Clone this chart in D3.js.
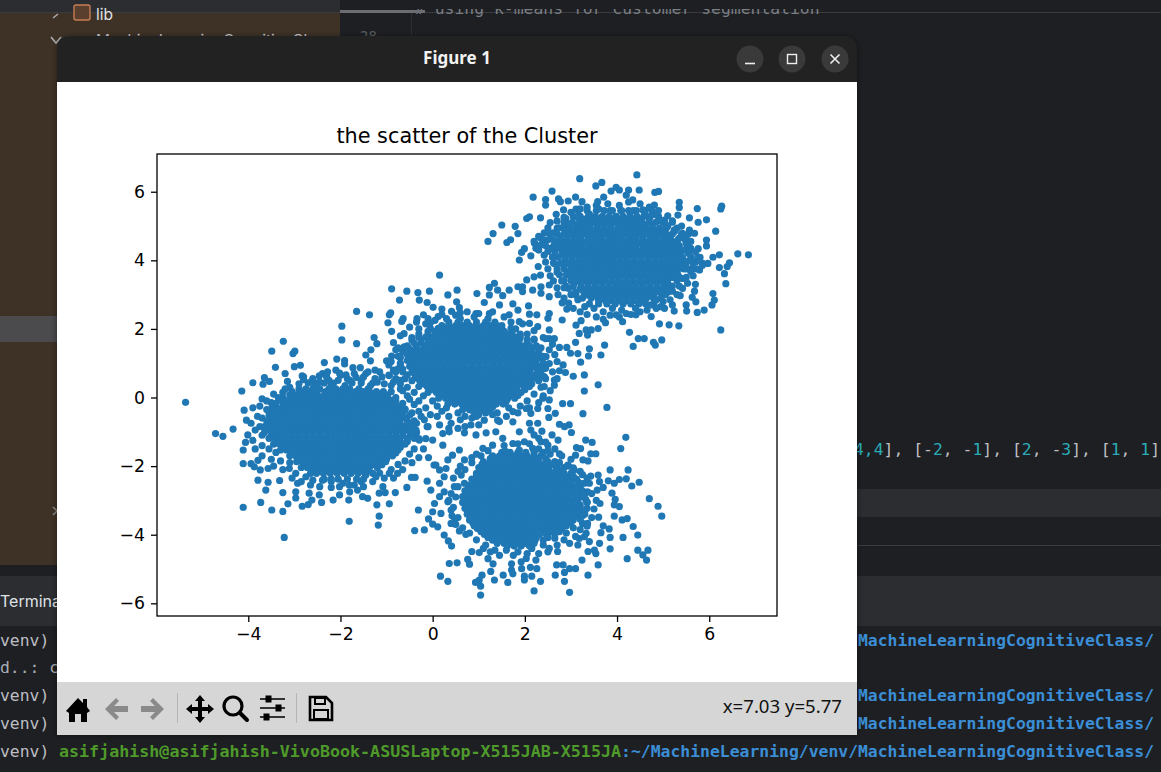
<!DOCTYPE html>
<html>
<head>
<meta charset="utf-8">
<title>the scatter of the Cluster</title>
<script src="https://cdnjs.cloudflare.com/ajax/libs/d3/7.8.5/d3.min.js"></script>
<style>
html, body { margin: 0; padding: 0; background: #1e1f22; overflow: hidden; }
svg { display: block; }
</style>
</head>
<body>
<svg id="shot" width="1161" height="772"></svg>
<script>
const chartTitle = 'the scatter of the Cluster';
const xTicks = [-4, -2, 0, 2, 4, 6];
const yTicks = [-6, -4, -2, 0, 2, 4, 6];
const xLimits = [-5.98, 7.47];
const yLimits = [-6.37, 7.1];
const statusText = 'x=7.03 y=5.77';

// dense middle of each cluster, read row by row: [y, x, x, x ...]
const upperRightRows = [
  [5.45,3.15,3.35,3.55,3.72,3.9,4.08,4.25,4.42,4.6,4.75],
  [5.28,3.05,3.2,3.38,3.53,3.68,3.83,3.98,4.13,4.28,4.43,4.58,4.72,4.9],
  [5.2,3.3,3.46,3.6,3.75,3.91,4.05,4.2,4.36,4.5],
  [5.11,2.85,3.03,3.19,3.34,3.49,3.64,3.79,3.94,4.09,4.24,4.39,4.54,4.69,4.84,5.0,5.2],
  [5.03,3.12,3.27,3.41,3.57,3.71,3.86,4.02,4.16,4.31,4.45,4.6,4.76],
  [4.94,2.7,2.85,2.98,3.13,3.27,3.42,3.57,3.72,3.87,4.02,4.17,4.32,4.47,4.62,4.77,4.92,5.07,5.3],
  [4.86,2.9,3.05,3.2,3.34,3.5,3.65,3.79,3.95,4.09,4.24,4.4,4.54,4.69,4.85,5.0],
  [4.77,2.55,2.7,2.85,2.99,3.14,3.29,3.44,3.59,3.74,3.89,4.04,4.19,4.34,4.49,4.64,4.79,4.94,5.06,5.2,5.4,5.55],
  [4.69,2.76,2.92,3.07,3.21,3.37,3.51,3.66,3.82,3.96,4.11,4.27,4.41,4.56,4.72,4.86,5.01,5.12],
  [4.6,2.4,2.62,2.78,2.92,3.07,3.22,3.37,3.52,3.67,3.82,3.97,4.12,4.27,4.42,4.57,4.72,4.87,5.02,5.17,5.32,5.48],
  [4.52,2.7,2.85,3.0,3.14,3.3,3.44,3.59,3.75,3.89,4.04,4.2,4.34,4.49,4.65,4.79,4.94,5.1,5.24],
  [4.43,2.45,2.63,2.78,2.93,3.08,3.22,3.37,3.52,3.67,3.82,3.97,4.12,4.27,4.42,4.57,4.72,4.87,5.02,5.17,5.35,5.52],
  [4.35,2.76,2.91,3.06,3.21,3.36,3.5,3.66,3.8,3.95,4.11,4.25,4.4,4.56,4.7,4.85,5.0,5.15,5.3],
  [4.26,2.5,2.65,2.83,2.98,3.13,3.28,3.43,3.58,3.73,3.88,4.03,4.18,4.33,4.48,4.63,4.78,4.93,5.08,5.23,5.4,5.55],
  [4.18,2.8,2.95,3.1,3.25,3.4,3.55,3.7,3.85,4.0,4.15,4.3,4.45,4.6,4.75,4.9,5.05,5.2,5.35],
  [4.09,2.6,2.72,2.87,3.02,3.17,3.32,3.47,3.62,3.77,3.92,4.07,4.22,4.37,4.52,4.67,4.82,4.97,5.12,5.27,5.42,5.6,5.8],
  [4.01,2.87,3.02,3.17,3.32,3.47,3.62,3.77,3.92,4.07,4.22,4.37,4.52,4.67,4.82,4.97,5.12,5.27,5.42],
  [3.92,2.62,2.78,2.94,3.09,3.24,3.39,3.54,3.69,3.84,3.99,4.14,4.29,4.44,4.59,4.74,4.89,5.04,5.19,5.34,5.5,5.65,5.85],
  [3.84,2.85,3.0,3.15,3.3,3.45,3.6,3.75,3.9,4.05,4.2,4.35,4.5,4.65,4.8,4.95,5.1,5.25,5.4],
  [3.75,2.7,2.85,3.02,3.17,3.32,3.47,3.62,3.77,3.92,4.07,4.22,4.37,4.52,4.67,4.82,4.97,5.12,5.27,5.45,5.6],
  [3.67,2.95,3.1,3.24,3.39,3.54,3.69,3.84,3.99,4.14,4.29,4.44,4.59,4.74,4.89,5.04,5.18,5.3],
  [3.58,2.75,2.9,3.07,3.22,3.37,3.52,3.67,3.82,3.97,4.12,4.27,4.42,4.57,4.72,4.87,5.02,5.17,5.32],
  [3.5,3.0,3.15,3.3,3.45,3.6,3.75,3.9,4.05,4.2,4.35,4.5,4.65,4.8,4.95,5.1,5.2],
  [3.41,2.85,3,3.14,3.29,3.44,3.59,3.74,3.89,4.04,4.19,4.34,4.49,4.64,4.79,4.94,5.09,5.3],
  [3.33,3.07,3.22,3.37,3.52,3.67,3.82,3.97,4.12,4.27,4.42,4.57,4.72,4.87,5.02,5.1],
  [3.24,2.9,3.05,3.22,3.37,3.52,3.67,3.82,3.97,4.12,4.27,4.42,4.57,4.72,4.87,5.02,5.15],
  [3.16,3.2,3.35,3.5,3.65,3.8,3.95,4.1,4.25,4.4,4.55,4.7,4.85,5.0],
  [3.07,3.1,3.28,3.43,3.58,3.73,3.88,4.03,4.18,4.33,4.48,4.63,4.78,4.93,5.1],
  [2.99,3.36,3.51,3.66,3.81,3.96,4.11,4.26,4.41,4.56,4.71,4.8],
  [2.9,3.25,3.44,3.59,3.74,3.89,4.04,4.19,4.34,4.49,4.64,4.79,4.95],
  [2.82,3.6,3.75,3.9,4.05,4.2,4.35,4.5,4.6],
  [2.73,3.4,3.6,3.78,3.96,4.13,4.3,4.47,4.62,4.8]
];
const middleRows = [
  [2.2,.35,.55,.75,.95,1.15,1.35],
  [2.1,.2,.35,.5,.65,.8,.95,1.1,1.25,1.4],
  [2.02,-.05,.12,.28,.43,.58,.73,.88,1.03,1.18,1.33,1.5,1.7],
  [1.93,-.1,.05,.2,.35,.5,.65,.8,.95,1.1,1.25,1.4,1.55,1.7],
  [1.85,-.3,-.1,.07,.22,.37,.52,.67,.82,.97,1.12,1.27,1.42,1.57,1.72,1.9],
  [1.76,-.3,-.15,0,.15,.3,.45,.6,.75,.9,1.05,1.2,1.35,1.5,1.65,1.8,1.9],
  [1.68,-.45,-.25,-.08,.08,.23,.38,.53,.68,.83,.98,1.13,1.28,1.43,1.58,1.73,1.88,2.05,2.2],
  [1.59,-.4,-.25,-.1,.05,.2,.35,.5,.65,.8,.95,1.1,1.25,1.4,1.55,1.7,1.85,2.05],
  [1.51,-.55,-.35,-.18,-.02,.13,.28,.43,.58,.73,.88,1.03,1.18,1.33,1.48,1.63,1.78,1.93,2.1,2.25],
  [1.42,-.5,-.35,-.2,-.05,.1,.25,.4,.55,.7,.85,1,1.15,1.3,1.45,1.6,1.75,1.9,2.05,2.15],
  [1.34,-.65,-.47,-.32,-.17,-.02,.13,.28,.43,.58,.73,.88,1.03,1.18,1.33,1.48,1.63,1.78,1.93,2.1,2.3],
  [1.25,-.55,-.4,-.25,-.1,.05,.2,.35,.5,.65,.8,.95,1.1,1.25,1.4,1.55,1.7,1.85,2,2.2],
  [1.17,-.7,-.48,-.33,-.18,-.03,.12,.27,.42,.57,.72,.87,1.02,1.17,1.32,1.47,1.62,1.77,1.92,2.07,2.22,2.35],
  [1.08,-.55,-.4,-.27,-.12,.03,.18,.33,.48,.63,.78,.93,1.08,1.23,1.38,1.53,1.68,1.83,1.98,2.13,2.25],
  [1.0,-.7,-.47,-.33,-.19,-.04,.11,.26,.41,.56,.71,.86,1.01,1.16,1.31,1.46,1.61,1.76,1.91,2.06,2.21,2.4],
  [.91,-.5,-.35,-.2,-.05,.1,.25,.4,.55,.7,.85,1,1.15,1.3,1.45,1.6,1.75,1.9,2.05,2.2,2.3],
  [.83,-.65,-.43,-.28,-.13,.02,.17,.32,.47,.62,.77,.92,1.07,1.22,1.37,1.52,1.67,1.82,1.97,2.12,2.27,2.4],
  [.74,-.45,-.3,-.15,0,.15,.3,.45,.6,.75,.9,1.05,1.2,1.35,1.5,1.65,1.8,1.95,2.1,2.3],
  [.66,-.55,-.38,-.23,-.08,.07,.22,.37,.52,.67,.82,.97,1.12,1.27,1.42,1.57,1.72,1.87,2.02,2.17,2.35],
  [.57,-.35,-.2,-.05,.1,.25,.4,.55,.7,.85,1,1.15,1.3,1.45,1.6,1.75,1.9,2.05,2.25],
  [.49,-.45,-.28,-.12,.03,.18,.33,.48,.63,.78,.93,1.08,1.23,1.38,1.53,1.68,1.83,1.98,2.13,2.3],
  [.4,-.2,-.05,.1,.25,.4,.55,.7,.85,1,1.15,1.3,1.45,1.6,1.75,1.9,2.05,2.15],
  [.32,-.3,-.12,.03,.18,.33,.48,.63,.78,.93,1.08,1.23,1.38,1.53,1.68,1.83,1.98,2.1],
  [.23,0,.15,.3,.45,.6,.75,.9,1.05,1.2,1.35,1.5,1.65,1.8,2],
  [.15,-.1,.08,.23,.38,.53,.68,.83,.98,1.13,1.28,1.43,1.58,1.73,1.92],
  [.06,.2,.35,.5,.65,.8,.95,1.1,1.25,1.4,1.55,1.7,1.85],
  [-.02,.13,.28,.43,.58,.73,.88,1.03,1.18,1.33,1.48,1.63,1.78],
  [-.11,.4,.55,.7,.85,1,1.15,1.3,1.45,1.6],
  [-.19,.33,.48,.63,.78,.93,1.08,1.23,1.38,1.53],
  [-.28,.7,.85,1,1.15,1.3],
  [-.36,.65,.8,.95,1.1,1.25]
];
const leftRows = [
  [.42,-2.7,-2.5,-2.35,-2.15,-1.75,-1.55,-1.3],
  [.25,-2.9,-2.75,-2.6,-2.45,-2.25,-2.1,-1.95,-1.8,-1.6,-1.4],
  [.17,-3.05,-2.87,-2.72,-2.52,-2.32,-2.17,-2.02,-1.87,-1.67,-1.5,-1.37,-1.22,-1.07,-.9],
  [.08,-3.1,-2.95,-2.8,-2.65,-2.5,-2.35,-2.2,-2.05,-1.9,-1.75,-1.6,-1.45,-1.3,-1.15,-1],
  [0,-3.25,-3.07,-2.92,-2.77,-2.62,-2.47,-2.32,-2.17,-2.02,-1.87,-1.72,-1.57,-1.42,-1.27,-1.12,-.97,-.8],
  [-.09,-3.3,-3.15,-3,-2.85,-2.7,-2.55,-2.4,-2.25,-2.1,-1.95,-1.8,-1.65,-1.5,-1.35,-1.2,-1.05,-.9,-.8],
  [-.17,-3.4,-3.22,-3.07,-2.92,-2.77,-2.62,-2.47,-2.32,-2.17,-2.02,-1.87,-1.72,-1.57,-1.42,-1.27,-1.12,-.97,-.82,-.65],
  [-.26,-3.4,-3.25,-3.1,-2.95,-2.8,-2.65,-2.5,-2.35,-2.2,-2.05,-1.9,-1.75,-1.6,-1.45,-1.3,-1.15,-1,-.85,-.7],
  [-.34,-3.5,-3.32,-3.17,-3.02,-2.87,-2.72,-2.57,-2.42,-2.27,-2.12,-1.97,-1.82,-1.67,-1.52,-1.37,-1.22,-1.07,-.92,-.77,-.6],
  [-.43,-3.45,-3.3,-3.15,-3,-2.85,-2.7,-2.55,-2.4,-2.25,-2.1,-1.95,-1.8,-1.65,-1.5,-1.35,-1.2,-1.05,-.9,-.75,-.65],
  [-.51,-3.55,-3.37,-3.22,-3.07,-2.92,-2.77,-2.62,-2.47,-2.32,-2.17,-2.02,-1.87,-1.72,-1.57,-1.42,-1.27,-1.12,-.97,-.82,-.67,-.5],
  [-.6,-3.5,-3.35,-3.2,-3.05,-2.9,-2.75,-2.6,-2.45,-2.3,-2.15,-2,-1.85,-1.7,-1.55,-1.4,-1.25,-1.1,-.95,-.8,-.6],
  [-.68,-3.6,-3.42,-3.27,-3.12,-2.97,-2.82,-2.67,-2.52,-2.37,-2.22,-2.07,-1.92,-1.77,-1.62,-1.47,-1.32,-1.17,-1.02,-.87,-.72,-.55,-.4],
  [-.77,-3.55,-3.4,-3.25,-3.1,-2.95,-2.8,-2.65,-2.5,-2.35,-2.2,-2.05,-1.9,-1.75,-1.6,-1.45,-1.3,-1.15,-1,-.85,-.7,-.5],
  [-.85,-3.65,-3.47,-3.32,-3.17,-3.02,-2.87,-2.72,-2.57,-2.42,-2.27,-2.12,-1.97,-1.82,-1.67,-1.52,-1.37,-1.22,-1.07,-.92,-.77,-.62,-.42],
  [-.94,-3.55,-3.42,-3.27,-3.12,-2.97,-2.82,-2.67,-2.52,-2.37,-2.22,-2.07,-1.92,-1.77,-1.62,-1.47,-1.32,-1.17,-1.02,-.87,-.72,-.57,-.45],
  [-1.02,-3.65,-3.48,-3.34,-3.19,-3.04,-2.89,-2.74,-2.59,-2.44,-2.29,-2.14,-1.99,-1.84,-1.69,-1.54,-1.39,-1.24,-1.09,-.94,-.79,-.64,-.49,-.35],
  [-1.11,-3.5,-3.35,-3.2,-3.05,-2.9,-2.75,-2.6,-2.45,-2.3,-2.15,-2,-1.85,-1.7,-1.55,-1.4,-1.25,-1.1,-.95,-.8,-.65,-.45],
  [-1.19,-3.55,-3.42,-3.27,-3.12,-2.97,-2.82,-2.67,-2.52,-2.37,-2.22,-2.07,-1.92,-1.77,-1.62,-1.47,-1.32,-1.17,-1.02,-.87,-.72,-.55,-.4],
  [-1.28,-3.4,-3.25,-3.1,-2.95,-2.8,-2.65,-2.5,-2.35,-2.2,-2.05,-1.9,-1.75,-1.6,-1.45,-1.3,-1.15,-1,-.85,-.7,-.55],
  [-1.36,-3.45,-3.32,-3.17,-3.02,-2.87,-2.72,-2.57,-2.42,-2.27,-2.12,-1.97,-1.82,-1.67,-1.52,-1.37,-1.22,-1.07,-.92,-.77,-.6],
  [-1.45,-3.25,-3.1,-2.95,-2.8,-2.65,-2.5,-2.35,-2.2,-2.05,-1.9,-1.75,-1.6,-1.45,-1.3,-1.15,-1,-.85,-.7],
  [-1.53,-3.3,-3.17,-3.02,-2.87,-2.72,-2.57,-2.42,-2.27,-2.12,-1.97,-1.82,-1.67,-1.52,-1.37,-1.22,-1.07,-.92,-.75],
  [-1.62,-3.05,-2.9,-2.75,-2.6,-2.45,-2.3,-2.15,-2,-1.85,-1.7,-1.55,-1.4,-1.25,-1.1,-.95,-.8],
  [-1.7,-3.1,-2.97,-2.82,-2.67,-2.52,-2.37,-2.22,-2.07,-1.92,-1.77,-1.62,-1.47,-1.32,-1.17,-1.02,-.87],
  [-1.79,-2.9,-2.75,-2.6,-2.45,-2.3,-2.15,-2,-1.85,-1.7,-1.55,-1.4,-1.25,-1.1,-1],
  [-1.87,-2.95,-2.82,-2.67,-2.52,-2.37,-2.22,-2.07,-1.92,-1.77,-1.62,-1.47,-1.32,-1.17,-1.02],
  [-1.96,-2.8,-2.65,-2.5,-2.35,-2.2,-2.05,-1.9,-1.75,-1.6,-1.45,-1.3,-1.1],
  [-2.04,-2.85,-2.72,-2.57,-2.42,-2.27,-2.12,-1.97,-1.82,-1.67,-1.52,-1.37,-1.2],
  [-2.13,-2.6,-2.45,-2.3,-2.15,-2,-1.85,-1.7,-1.55,-1.4],
  [-2.21,-2.65,-2.52,-2.37,-2.22,-2.07,-1.92,-1.77,-1.62,-1.47,-1.3],
  [-2.38,-2.35,-2.2,-2.05,-1.85,-1.65,-1.5]
];
const lowerRows = [
  [-1.6,1.5,1.68,1.85,2.02,2.2,2.4],
  [-1.7,1.3,1.45,1.6,1.75,1.9,2.05,2.2,2.35],
  [-1.78,1.25,1.37,1.52,1.67,1.82,1.97,2.12,2.27,2.45],
  [-1.87,1.1,1.25,1.4,1.55,1.7,1.85,2,2.15,2.3,2.5,2.65],
  [-1.95,1.07,1.22,1.37,1.52,1.67,1.82,1.97,2.12,2.27,2.42,2.6],
  [-2.04,1,1.15,1.3,1.45,1.6,1.75,1.9,2.05,2.2,2.35,2.5,2.7,2.85],
  [-2.12,1.02,1.17,1.32,1.47,1.62,1.77,1.92,2.07,2.22,2.37,2.52,2.67,2.8],
  [-2.21,.95,1.1,1.25,1.4,1.55,1.7,1.85,2,2.15,2.3,2.45,2.6,2.75,2.85,3],
  [-2.29,.95,1.07,1.22,1.37,1.52,1.67,1.82,1.97,2.12,2.27,2.42,2.57,2.72,2.87,3],
  [-2.38,.85,1,1.15,1.3,1.45,1.6,1.75,1.9,2.05,2.2,2.35,2.5,2.65,2.8,2.95,3.12],
  [-2.46,.87,1.02,1.17,1.32,1.47,1.62,1.77,1.92,2.07,2.22,2.37,2.52,2.67,2.82,3,3.15],
  [-2.55,.8,.95,1.1,1.25,1.4,1.55,1.7,1.85,2,2.15,2.3,2.45,2.6,2.75,2.9,3,3.2],
  [-2.63,.77,.92,1.07,1.22,1.37,1.52,1.67,1.82,1.97,2.12,2.27,2.42,2.57,2.72,2.87,3.05,3.2],
  [-2.72,.7,.85,1,1.15,1.3,1.45,1.6,1.75,1.9,2.05,2.2,2.35,2.5,2.65,2.8,2.95,3.05,3.25],
  [-2.8,.72,.87,1.02,1.17,1.32,1.47,1.62,1.77,1.92,2.07,2.22,2.37,2.52,2.67,2.82,2.97,3.15,3.3],
  [-2.89,.65,.8,.95,1.1,1.25,1.4,1.55,1.7,1.85,2,2.15,2.3,2.45,2.6,2.75,2.9,3.1,3.25],
  [-2.97,.72,.87,1.02,1.17,1.32,1.47,1.62,1.77,1.92,2.07,2.22,2.37,2.52,2.67,2.82,2.97,3.15,3.32],
  [-3.06,.65,.82,.97,1.12,1.27,1.42,1.57,1.72,1.87,2.02,2.17,2.32,2.47,2.62,2.77,2.92,3.07,3.15,3.35],
  [-3.14,.74,.89,1.04,1.19,1.34,1.49,1.64,1.79,1.94,2.09,2.24,2.39,2.54,2.69,2.84,2.99,3.2],
  [-3.23,.7,.85,1,1.15,1.3,1.45,1.6,1.75,1.9,2.05,2.2,2.35,2.5,2.65,2.8,2.95,3.1,3.2,3.35],
  [-3.31,.77,.92,1.07,1.22,1.37,1.52,1.67,1.82,1.97,2.12,2.27,2.42,2.57,2.72,2.87,3.02,3.2],
  [-3.4,.75,.9,1.05,1.2,1.35,1.5,1.65,1.8,1.95,2.1,2.25,2.4,2.55,2.7,2.85,3,3.15,3.3],
  [-3.48,.82,.97,1.12,1.27,1.42,1.57,1.72,1.87,2.02,2.17,2.32,2.47,2.62,2.77,2.92,3.07],
  [-3.57,.8,.95,1.1,1.25,1.4,1.55,1.7,1.85,2,2.15,2.3,2.45,2.6,2.75,2.9,3.05],
  [-3.65,.87,1.02,1.17,1.32,1.47,1.62,1.77,1.92,2.07,2.22,2.37,2.52,2.67,2.82,3],
  [-3.74,.9,1.05,1.2,1.35,1.5,1.65,1.8,1.95,2.1,2.25,2.4,2.55,2.7,2.9],
  [-3.82,.97,1.12,1.27,1.42,1.57,1.72,1.87,2.02,2.17,2.32,2.47,2.62,2.8],
  [-3.91,1.05,1.2,1.35,1.5,1.65,1.8,1.95,2.1,2.25,2.4,2.55,2.75],
  [-3.99,1.12,1.27,1.42,1.57,1.72,1.87,2.02,2.17,2.32,2.47,2.65],
  [-4.08,1.2,1.35,1.5,1.65,1.8,1.95,2.1,2.25,2.5],
  [-4.16,1.3,1.47,1.62,1.77,1.92,2.07,2.22,2.4],
  [-4.25,1.4,1.55,1.7,1.85,2,2.2],
  [-4.33,1.62,1.77,1.92,2.1]
];

// single dots around the clusters: [x, y]
const upperRightEdge = [[4.43,6.49],[3.19,6.38],[3.67,6.27],[3.54,6.17],[2.59,6.02],[2.18,5.84],[2.45,5.77],[2.45,5.61],[2.73,5.79],[2.77,5.71],[2.94,5.73],[3.1,5.84],[3.24,5.71],[3.58,5.71],[3.71,5.84],[3.87,6.02],[3.98,6.13],[4.05,6.05],[4.25,6.05],[4.48,6.05],[4.82,5.98],[4.9,6.01],[4.81,5.61],[5.35,5.69],[5.35,5.54],[5.74,5.51],[5.32,5.32],[5.57,5.24],[5.76,5.11],[5.94,5.18],[6.27,5.58],[6.25,5.5],[6.14,4.85],[5.94,4.59],[5.94,4.42],[5.76,4.34],[6.22,4.16],[6.62,4.19],[6.85,4.16],[6.44,3.93],[6.39,3.82],[6.22,3.79],[6.33,3.61],[6.36,3.32],[6.08,4.09],[5.97,3.91],[5.79,3.72],[5.7,3.3],[5.68,3.1],[5.71,2.79],[6.08,3.03],[6.11,2.84],[6.06,2.7],[5.89,2.55],[5.74,2.48],[5.51,2.52],[5.5,2.7],[5.63,2.92],[5.37,2.97],[6.25,1.97],[5.34,2.09],[5.13,2.12],[4.92,2.15],[4.97,1.68],[4.79,1.61],[4.83,1.53],[4.59,1.72],[4.46,1.72],[4.35,1.49],[4.27,1.9],[3.73,1.53],[3.65,1.24],[3.4,1.42],[3.38,1.21],[3.15,1.28],[3.1,1.61],[3.21,1.03],[3.33,1.97],[3.18,1.87],[3.44,1.97],[3.59,2.01],[3.36,1.82],[3.11,2.11],[3.22,2.24],[3.75,2.18],[4.12,2.21],[3.98,2.41],[4.2,2.45],[4.41,2.41],[4.74,2.36],[5.03,2.6],[5.24,2.52],[1.5,5.03],[1.79,4.99],[1.31,4.78],[1.2,4.55],[1.85,4.78],[1.69,4.6],[1.61,4.52],[1.99,4.34],[1.93,4.23],[1.88,4.01],[2.13,4.13],[2.29,3.82],[2.04,5.22],[2.1,5.27],[2.34,5.24],[2.5,4.95],[2.68,5.34],[2.84,5.47],[2.89,5.22],[3.11,5.49],[2.21,4.5],[2.35,4.64],[2.24,4.35],[2.34,3.57],[2.04,3.43],[2.2,3.52],[1.85,3.23],[1.95,3.23],[1.34,3.33],[1.23,3.21],[1.23,2.99],[.96,3.03],[1.41,3.13],[1.52,2.97],[1.66,3.13],[1.95,3.09],[2.17,3.13],[2.35,3.23],[2.53,3.28],[2.53,2.94],[2.35,3.04],[1.12,2.77],[1.45,2.7],[1.74,2.73],[2.08,2.67],[.94,2.45],[1.23,2.45],[1.66,2.41],[1.85,2.55],[2.1,2.43],[2.26,2.41],[1.88,2.21],[2.28,2.07],[2.1,2.16],[2.53,2.45],[2.5,2.31],[2.81,2.26],[2.81,2.76],[2.91,2.58],[2.95,3.18],[3.11,2.99],[5.57,4.88],[5.68,4.79],[5.42,4.3],[5.6,4.35],[5.5,3.96],[5.71,3.96],[5.42,3.77],[5.6,3.67],[5.42,3.47],[5.53,3.33],[5.42,3.18],[5.2,3.1],[5.2,2.7],[4.95,2.65],[4.74,2.7],[5.06,5.03],[5.24,4.88],[5.42,4.79],[4.85,5.32],[5.03,5.17],[4.56,5.47],[4.34,5.76],[4.2,5.9],[2.6,4.8],[2.5,4.6],[2.55,4.35],[2.6,4.1],[2.65,3.9],[2.7,3.65],[2.8,3.4],[2.85,3.2],[3,3],[3.15,2.85],[3.3,2.65],[3.5,2.6],[3.7,2.5],[3.9,2.6],[4.1,2.55],[4.4,2.6],[4.6,2.8],[4.85,2.85],[5.05,3],[5.2,3.25],[5.35,3.5],[5.5,3.75],[5.6,4],[5.55,4.2],[5.5,4.5],[5.35,4.65],[5.25,4.85],[5.1,5],[4.95,5.15],[4.7,5.2],[4.6,5.35],[4.35,5.45],[4.1,5.45],[3.85,5.45],[3.6,5.5],[3.4,5.35],[3.15,5.25],[2.95,5.05],[2.75,4.95],[2.3,4.7],[2.42,4.8],[2.2,4.55],[2.35,4.45],[2.3,4.3],[2.42,4.15],[2.45,3.95],[2.5,3.75],[2.55,3.55],[2.62,3.4],[2.7,3.2],[2.72,3],[2.85,2.9],[2.95,2.75],[3.05,2.6],[3.2,2.5],[3.35,2.42],[3.55,2.35],[3.7,2.28],[3.85,2.4],[4.05,2.35],[4.3,2.42],[4.5,2.5],[4.65,2.55],[4.85,2.6],[5,2.8],[5.15,2.85],[5.3,3],[5.35,3.25],[5.5,3.5],[5.65,3.55],[5.72,3.75],[5.85,3.85],[5.75,4.1],[5.7,4.25],[5.6,4.55],[5.5,4.7],[5.4,5],[5.2,5.15],[5.1,5.3],[4.9,5.45],[4.7,5.55],[4.5,5.65],[4.25,5.7],[4.05,5.6],[3.8,5.65],[3.55,5.6],[3.35,5.55],[3.2,5.5],[3,5.4],[2.85,5.25],[2.7,5.15],[2.55,5.1]];
const middleEdge = [[.15,3.57],[-.89,3.17],[-.56,3.1],[-.32,3.06],[-.07,3.1],[.53,3.13],[.33,2.99],[-.72,2.84],[-.29,2.84],[-.12,2.77],[.01,2.63],[.2,2.58],[.52,2.79],[.58,2.62],[.41,2.51],[.6,2.47],[-1.65,2.51],[-1.37,2.41],[-.91,2.47],[-.94,2.41],[-.97,2.18],[-.64,2.3],[-.67,2.22],[-.2,2.41],[-.34,2.3],[.12,2.36],[-.05,2.18],[-1.97,2.08],[-.89,1.93],[-.62,1.86],[-1.97,1.68],[-1.65,1.57],[-1.27,1.75],[-1.21,1.57],[-1.34,1.39],[-1.45,1.24],[-1.35,1.07],[-1,1.07],[-.89,1.21],[-.8,1.39],[-.62,1.48],[-.75,1.2],[-.7,.95],[-.65,.75],[-.6,.55],[-.55,1.45],[-.45,1.75],[-.3,2],[-.15,2.15],[.05,2.25],[.3,2.3],[.6,2.3],[.9,2.35],[1.2,2.3],[1.5,2.1],[1.8,2],[2.05,1.85],[2.2,1.7],[2.35,1.45],[2.4,1.2],[2.45,.85],[2.45,.55],[2.35,.3],[2.2,.1],[2.05,-.1],[1.9,-.25],[1.65,-.3],[1.4,-.45],[2.53,1.72],[2.45,1.72],[2.64,1.72],[2.53,1.97],[2.75,1.46],[2.91,1.46],[2.99,1.29],[2.53,1.39],[2.46,1.19],[2.24,1.48],[2.53,.99],[2.83,.95],[2.75,.78],[2.88,.73],[3.05,.62],[3.29,.66],[3.59,.37],[3.29,.19],[2.64,.51],[2.42,.61],[2.28,.8],[2.64,.36],[2.42,.32],[-.55,.3],[-.4,.15],[-.5,-.05],[-.3,-.1],[-.2,.05],[-.15,-.3],[0,-.1],[.1,-.25],[.2,-.4],[.3,-.3],[-.6,-.35],[-.45,-.45],[-.25,-.55],[-.05,-.5],[.1,-.55],[.35,-.55],[.55,-.45],[.6,-.65],[.4,-.75],[.15,-.8],[-.1,-.85],[.35,-.9],[.55,-.9],[.7,-.85],[.85,-.6],[1,-.5],[1.15,-.45],[1.3,-.5],[1,-.8],[-.5,2.05],[-.7,1.8],[-.85,1.6],[-.75,1.45],[-.9,1.05],[-.85,.8],[-.95,.95],[-.8,.55],[-.7,.4],[-.65,.2],[-.35,2.2],[-.1,2.3],[.2,2.42],[.5,2.4],[.75,2.5],[1,2.45],[1.3,2.5],[1.55,2.35],[1.7,2.2],[1.95,2.15],[2.2,1.95],[2.4,1.75],[2.6,1.55],[2.65,1.25],[2.7,1.05],[2.6,.75],[2.7,.55],[2.55,.2],[2.4,.05],[2.3,-.15],[2.1,-.3],[1.85,-.45],[1.6,-.55],[1.45,-.7],[.95,-.55],[.7,-.55]];
const leftEdge = [[-3.24,1.64],[-3.49,1.35],[-2.99,1.35],[-3.03,1.28],[-2.08,1.12],[-1.91,1.08],[-1.91,.98],[-3.41,.88],[-3,.9],[-2.87,.94],[-2.35,1.02],[-3.2,.7],[-3.65,.58],[-3.54,.47],[-3.68,.39],[-3.9,.43],[-3.15,.47],[-1.73,.87],[-1.57,.87],[-2.28,.75],[-2.39,.7],[-2.46,.63],[-2.83,.63],[-2.8,.52],[-2.02,.71],[-1.88,.66],[-1.66,.59],[-1.45,.7],[-1.15,.75],[-.94,.64],[-.76,.83],[-2.8,.6],[-2.6,.55],[-2.45,.45],[-2.3,.6],[-2.1,.8],[-2,.65],[-1.85,.55],[-1.7,.7],[-1.55,.5],[-1.4,.75],[-1.25,.8],[-1.1,.6],[-.95,.65],[-.8,.75],[-.7,.5],[-.85,.45],[-1.05,.4],[-1.2,.45],[-1.35,.35],[-2.55,.35],[-2.2,.35],[-1.9,.35],[-3.1,.3],[-3.25,.15],[-3.35,0],[-3.5,-.15],[-3.6,-.35],[-3.7,-.6],[-3.75,-.85],[-3.7,-1.1],[-3.7,-1.4],[-3.55,-1.5],[-3.4,-1.6],[-3.3,-1.85],[-3.1,-1.9],[-.3,-.4],[-.35,-.75],[-.3,-1.2],[-.4,-1.5],[-.5,-1.65],[-.6,-1.85],[-.75,-1.95],[-.9,-2.1],[-1.15,-2.2],[-5.36,-.14],[-4.14,.19],[-3.7,-.04],[-4.09,-.37],[-4.04,-.66],[-3.94,-.75],[-4.33,-.92],[-4.71,-1.05],[-4.55,-1.13],[-4.01,-1.09],[-4.06,-1.31],[-4.11,-1.53],[-4.11,-1.93],[-3.94,-1.93],[-3.79,-1.83],[-3.87,-2.02],[-3.74,-2.11],[-3.57,-2.07],[-3.79,-2.41],[-3.57,-2.47],[-3.32,-2.42],[-3.62,-2.7],[-3.25,-2.77],[-3.73,-3.06],[-4.11,-3.2],[-3.49,-3.28],[-3.25,-3.32],[-3.14,-3.1],[-2.83,-3.17],[-2.7,-3.12],[-2.97,-2.93],[-2.62,-2.99],[-2.41,-3.06],[-2.46,-2.84],[-2.16,-2.99],[-1.81,-3.61],[-3.22,-4.08],[-1.18,-3.72],[-1.16,-3.46],[-1.21,-3.13],[-.94,-3.1],[-1.82,-2.99],[-2.02,-2.84],[-1.8,-2.75],[-1.63,-2.7],[-1.5,-2.6],[-1.41,-2.94],[-1.52,-2.89],[-1.16,-2.79],[-1.03,-2.77],[-.81,-2.77],[-1.08,-2.6],[-.56,-2.62],[-.46,-2.33],[-.38,-2.33],[-.12,-2.44],[-.04,-2.7],[-3.11,-2.07],[-2.97,-2.21],[-2.75,-2.31],[-2.6,-2.41],[-2.39,-2.41],[-2.2,-2.62],[-2.02,-2.6],[-1.81,-2.55],[-1.45,-2.26],[-1.23,-2.31],[-.94,-2.21],[-.76,-2.21],[-2.97,-2.75],[-2.68,-2.79],[-2.93,-2.5],[-3.9,-.3],[-3.8,-.55],[-3.85,-.95],[-3.9,-1.25],[-3.85,-1.5],[-3.7,-1.7],[-3.5,-1.8],[-3.45,-2],[-3.25,-2.1],[-3.05,-2.35],[-2.85,-2.45],[-2.65,-2.55],[-2.45,-2.6],[-2.2,-2.45],[-1.95,-2.5],[-1.7,-2.55],[-1.55,-2.45],[-1.3,-2.45],[-1.05,-2.35],[-.85,-2.35],[-.65,-2.1],[-.45,-1.9],[-.3,-1.75],[-.2,-1.5],[-.15,-1.2],[-.12,-.85],[-.18,-.65],[-.4,-.2],[-.55,.05],[-.7,.25],[-.9,.35],[-1.25,.55],[-1.5,.6],[-1.8,.5],[-2.05,.5],[-2.25,.5],[-2.65,.45],[-2.9,.4],[-3.2,.25],[-3.45,.1],[-3.6,-.1],[-3.75,-.25]];
const lowerEdge = [[-.31,-3.28],[-.39,-3.88],[-.18,-3.86],[-.09,-3.54],[0,-3.69],[.11,-3.77],[.25,-4.01],[.34,-4.18],[.41,-4.33],[.58,-3.89],[.72,-3.99],[.36,-4.84],[.53,-4.82],[.76,-4.72],[.8,-4.86],[.17,-5.21],[.33,-5.36],[-.09,-1.75],[.03,-1.97],[.15,-2.11],[.25,-2.31],[.15,-2.5],[.25,-2.75],[.15,-2.89],[.04,-3.09],[0,-3.33],[.18,-3.38],[.4,-3.28],[.33,-3.04],[.47,-3.62],[.4,-3.67],[-.36,-.95],[-.29,-1.24],[0,-1.24],[.22,-1.39],[.22,-1.05],[.36,-1],[.69,-1.03],[.58,-1.53],[.43,-1.68],[.33,-1.82],[.07,-1.97],[.29,-2.07],[.69,-1.82],[.62,-2.26],[.47,-2.6],[.69,-2.5],[3.78,-.29],[3.26,-.47],[2.99,-.18],[2.82,-.18],[2.66,-.46],[2.52,-.58],[2.75,-.78],[2.96,-.8],[2.86,-.85],[3.01,-1.02],[2.59,-1.09],[2.72,-1.24],[2.37,-.98],[3.32,-1.24],[3.46,-1.31],[4.19,-1.16],[4.08,-1.49],[3.12,-1.46],[3.21,-1.49],[3.1,-1.68],[3.43,-1.64],[3.54,-1.64],[2.75,-1.64],[3.26,-1.82],[3.37,-1.85],[3.85,-2.11],[4.24,-2.11],[3.43,-2.29],[3.59,-2.26],[4.2,-2.37],[4.05,-2.39],[3.94,-2.5],[3.81,-2.43],[4.48,-2.47],[4.32,-2.58],[3.7,-2.62],[3.57,-2.7],[3.62,-2.45],[3.89,-2.79],[3.96,-2.97],[4.7,-2.95],[4.89,-3.17],[4.97,-3.46],[4.05,-3.18],[3.94,-3.13],[3.94,-3.46],[4.11,-3.57],[4.22,-3.53],[4.35,-3.76],[4.45,-4.01],[4.13,-4.08],[3.85,-4.08],[3.83,-3.83],[3.7,-3.74],[3.65,-3.94],[3.6,-3.49],[3.63,-3.09],[3.85,-4.41],[4.45,-4.45],[4.67,-4.45],[4.56,-4.59],[4.64,-4.74],[4.22,-4.7],[3.59,-4.88],[3.54,-4.55],[3.37,-4.49],[3.51,-4.45],[3.62,-4.25],[3.4,-4.2],[3.24,-4.74],[3.37,-5.18],[3.1,-4.99],[2.97,-4.99],[2.86,-5.1],[2.83,-4.88],[2.69,-4.88],[2.66,-5.18],[2.86,-5.36],[2.97,-5.68],[2.34,-5.36],[2.2,-5.64],[2.15,-5.21],[1.99,-5.21],[1.99,-5.32],[2.26,-4.99],[2.12,-4.95],[1.93,-4.99],[1.71,-4.85],[1.71,-5.03],[1.74,-5.14],[1.63,-5.39],[1.53,-5.18],[1.34,-5.32],[1.26,-5.07],[1.31,-4.85],[1.07,-5.18],[1.01,-5.32],[.93,-5.39],[1.04,-5.5],[1.04,-5.76],[.85,-4.49],[1.01,-4.52],[1.1,-4.4],[1.92,-4.79],[2.03,-4.69],[2.24,-4.74],[2.53,-4.4],[2.71,-4.49],[2.97,-4.25],[3.15,-4.3],[3.29,-4.06],[3.18,-4.11],[3.25,-3.67],[3.36,-3.67],[3.33,-3.96],[3.29,-2.5],[3.36,-2.75],[3.25,-2.89],[3.11,-2.6],[3.07,-2.11],[2.93,-1.97],[1.88,-1],[2.13,-.95],[2.2,-1.09],[2.35,-1.29],[2.17,-1.48],[2.5,-1.39],[2.3,-1.19],[1.99,-1.29],[1.74,-1.34],[1.52,-1.19],[1.37,-1],[1.16,-1.03],[.94,-1.09],[1.09,-1.48],[1.3,-1.39],[1.59,-1.58],[1.88,-1.53],[2.1,-.75],[2.28,-.75],[1.74,-.71],[2.03,-.32],[2.28,-.32],[2.5,-.32],[2.13,-.46],[2.39,-.02],[2.53,-.07],[1.74,-.41],[1.41,-.66],[1.12,-.66],[.9,-.46],[.83,-.8],[.55,-2.6],[.5,-2.9],[.45,-3.2],[.55,-3.5],[.65,-3.8],[.8,-3.95],[.95,-4.15],[1.15,-4.3],[1.35,-4.45],[1.6,-4.45],[1.85,-4.5],[2.15,-4.4],[2.4,-4.3],[2.65,-4.1],[2.9,-3.95],[3.05,-3.8],[3.2,-3.55],[3.3,-3.3],[3.35,-3.05],[3.3,-2.8],[3.2,-2.5],[3.05,-2.3],[2.95,-2],[2.75,-1.9],[2.55,-1.65],[2.3,-1.5],[1.05,-1.7],[.85,-1.9],[.7,-2.1],[3.25,-2.25],[3.4,-2.5],[3.45,-2.8],[3.55,-3],[3.5,-3.25],[3.45,-3.5],[3.35,-3.75],[3.25,-3.45],[3.2,-3.85],[3.1,-4.05],[2.85,-4.15],[2.7,-4.3],[2.5,-4.5],[2.3,-4.55],[2.05,-4.55],[1.75,-4.6],[1.45,-4.6],[1.25,-4.5],[1.2,-4.7],[3.35,-2.35],[3.2,-2.15],[3.05,-2.05],[3,-1.8],[2.8,-1.7],[2.65,-1.5],[2.5,-1.55],[2.45,-1.3],[2.1,-1.35],[1.85,-1.35],[1.55,-1.4],[1.2,-1.55],[.95,-1.65],[.85,-1.75],[.6,-2],[.55,-2.15],[.45,-2.35],[.4,-2.8],[.35,-3],[.42,-3.45],[.5,-3.7]];

const rowsToPoints = rows => rows.flatMap(([y, ...xs]) => xs.map(x => [x, y]));
const points = [upperRightRows, middleRows, leftRows, lowerRows].flatMap(rowsToPoints)
    .concat(upperRightEdge, middleEdge, leftEdge, lowerEdge);

const win = { left: 57, right: 857, top: 36, canvasTop: 82, canvasBottom: 682, bottom: 735 };
const margin = { left: 100, right: 80, top: 72, bottom: 66 };
const mono = '"DejaVu Sans Mono", monospace';
const svg = d3.select('#shot');

function rect(parent, x, y, w, h, fill) {
    return parent.append('rect').attr('x', x).attr('y', y).attr('width', w).attr('height', h).attr('fill', fill);
}
function label(parent, x, y, str, size, fill, family = mono, weight = 400, anchor = 'start') {
    return parent.append('text').attr('x', x).attr('y', y).text(str)
        .attr('font-size', size).attr('fill', fill).attr('font-family', family)
        .attr('font-weight', weight).attr('text-anchor', anchor);
}

// the IDE behind the figure window
const defs = svg.append('defs');
defs.append('clipPath').attr('id', 'below-tabs').append('rect').attr('x', 340).attr('y', 9).attr('width', 821).attr('height', 40);
const ide = svg.append('g');
rect(ide, 0, 0, 1161, 772, '#1e1f22');
rect(ide, 0, 0, 340, 13, '#2b2d30');
rect(ide, 0, 13, 340, 552, '#3e3226');
rect(ide, 0, 316, 60, 26, '#4b4b4e');
rect(ide, 0, 12, 1161, 1, '#3a3b3f');
label(ide, 415, 14, '# using k-means for customer segmentation', 16.4, '#7a7e85').attr('clip-path', 'url(#below-tabs)');
rect(ide, 340, 10, 85, 3, '#6b6d72');
rect(ide, 411, 13, 1, 22, '#2e2f33');
rect(ide, 857, 489, 304, 28, '#2b2d30');
rect(ide, 857, 545, 304, 1, '#393b40');
rect(ide, 0, 576, 1161, 50, '#2b2d30');
label(ide, 360, 41, '28', 14, '#5a5d63');
label(ide, 96, 20, 'lib', 15.5, '#dfe1e5', 'Inter');
label(ide, 96, 46, 'MachineLearningCognitiveCla', 15.5, '#c9ccd2', 'Inter');
ide.append('rect').attr('x', 74).attr('y', 5).attr('width', 16).attr('height', 15).attr('rx', 2)
    .attr('fill', '#5a3e2e').attr('stroke', '#c77d55').attr('stroke-width', 1.4);
ide.append('path').attr('d', 'M53 18 L58 14').attr('stroke', '#b0b0b0').attr('stroke-width', 1.5).attr('fill', 'none');
ide.append('path').attr('d', 'M51 37 L56 43 L61 37').attr('stroke', '#b0b0b0').attr('stroke-width', 1.5).attr('fill', 'none');
ide.append('path').attr('d', 'M53 507 L57 511 L53 515').attr('stroke', '#8a8a8a').attr('stroke-width', 1.5).attr('fill', 'none');
label(ide, 0, 607, 'Terminal', 16, '#dfe1e5', 'Inter');

const codeBits = [['4,4', '#2aacb8'], ['], [', '#bcbec4'], ['-', '#bcbec4'], ['2', '#2aacb8'], [', -', '#bcbec4'], ['1', '#2aacb8'], ['], [', '#bcbec4'], ['2', '#2aacb8'], [', -', '#bcbec4'], ['3', '#2aacb8'], ['], [', '#bcbec4'], ['1', '#2aacb8'], [', ', '#bcbec4'], ['1', '#2aacb8'], [']', '#bcbec4']];
const codeLine = label(ide, 854, 455, '', 16.4, '#bcbec4').style('white-space', 'pre');
codeBits.forEach(([t, c]) => codeLine.append('tspan').attr('fill', c).text(t));

const promptRows = [641, 696, 724, 752];
promptRows.forEach(y => {
    label(ide, 0, y + 5, 'venv)', 16.4, '#bcbec4');
    label(ide, 858, y + 5, 'MachineLearningCognitiveClass/', 16.4, '#3b8ed6', mono, 700);
});
label(ide, 0, 673, 'd..: c', 16.4, '#a9adb5');
label(ide, 59, 757, 'asifjahish@asifjahish-VivoBook-ASUSLaptop-X515JAB-X515JA', 16.4, '#4e9a2a', mono, 700)
    .attr('textLength', 562).attr('lengthAdjust', 'spacingAndGlyphs');
label(ide, 621, 757, ':~/MachineLearning/venv/', 16.4, '#3b8ed6', mono, 700).attr('textLength', 237);

// figure window
const fig = svg.append('g');
const shadow = defs.append('filter').attr('id', 'shadow').attr('x', '-5%').attr('y', '-5%').attr('width', '110%').attr('height', '110%');
shadow.append('feDropShadow').attr('dx', 0).attr('dy', 1).attr('stdDeviation', 3).attr('flood-color', '#000').attr('flood-opacity', 0.45);
fig.append('path')
    .attr('d', `M${win.left} ${win.bottom} V${win.top + 14} Q${win.left} ${win.top} ${win.left + 14} ${win.top} H${win.right - 14} Q${win.right} ${win.top} ${win.right} ${win.top + 14} V${win.bottom} Z`)
    .attr('fill', '#222222').attr('filter', 'url(#shadow)');
rect(fig, win.left, win.canvasTop, win.right - win.left, win.canvasBottom - win.canvasTop, '#ffffff');
rect(fig, win.left, win.canvasBottom, win.right - win.left, win.bottom - win.canvasBottom, '#d6d6d6');
label(fig, 457, 64, 'Figure 1', 17, '#f2f2f2', '"Noto Sans"', 700, 'middle');

[750, 792, 835].forEach(cx => fig.append('circle').attr('cx', cx).attr('cy', 59).attr('r', 13.5).attr('fill', '#3a3a3a'));
fig.append('path').attr('d', 'M745 63.5 H755').attr('stroke', '#eee').attr('stroke-width', 1.6);
fig.append('rect').attr('x', 787.5).attr('y', 54.5).attr('width', 9).attr('height', 9).attr('fill', 'none').attr('stroke', '#eee').attr('stroke-width', 1.4);
fig.append('path').attr('d', 'M830.5 54.5 L839.5 63.5 M839.5 54.5 L830.5 63.5').attr('stroke', '#eee').attr('stroke-width', 1.6);

// toolbar icons
const tool = fig.append('g');
tool.append('path').attr('d', 'M66 711 L78 698 L83 703 V699 H87 V707 L90 711 L87 713 V722 H81 V714 H75 V722 H69 V713 Z').attr('fill', '#000');
tool.append('path').attr('d', 'M105 709 L116 698 L119 701 L114 706 H128 V712 H114 L119 717 L116 720 Z').attr('fill', '#8a8a8a');
tool.append('path').attr('d', 'M164 709 L153 698 L150 701 L155 706 H141 V712 H155 L150 717 L153 720 Z').attr('fill', '#8a8a8a');
rect(tool, 177, 693, 1, 30, '#b5b5b5');
tool.append('path').attr('d', 'M200 695 L205 701 H202 V707 H208 V704 L214 709 L208 714 V711 H202 V717 H205 L200 723 L195 717 H198 V711 H192 V714 L186 709 L192 704 V707 H198 V701 H195 Z').attr('fill', '#000');
tool.append('circle').attr('cx', 233).attr('cy', 706).attr('r', 9).attr('fill', 'none').attr('stroke', '#000').attr('stroke-width', 3.2);
tool.append('path').attr('d', 'M240 713 L247 720').attr('stroke', '#000').attr('stroke-width', 4).attr('stroke-linecap', 'round');
[[699, 268], [708, 278], [717, 266]].forEach(([y, kx]) => {
    rect(tool, 260, y - 0.9, 25, 1.8, '#222');
    rect(tool, kx - 2.5, y - 3.5, 6, 7, '#000');
});
rect(tool, 296, 693, 1, 30, '#b5b5b5');
tool.append('path').attr('d', 'M310 697 H326 L332 703 V720 H310 Z').attr('fill', 'none').attr('stroke', '#000').attr('stroke-width', 2.6);
tool.append('rect').attr('x', 315).attr('y', 698).attr('width', 10).attr('height', 6).attr('fill', 'none').attr('stroke', '#000').attr('stroke-width', 2);
tool.append('rect').attr('x', 314).attr('y', 710).attr('width', 14).attr('height', 9).attr('fill', 'none').attr('stroke', '#000').attr('stroke-width', 2);
label(fig, 842, 713, statusText, 18.6, '#111', '"Noto Sans"', 400, 'end');

// the plot
const x = d3.scaleLinear().domain(xLimits).range([win.left + margin.left, win.right - margin.right]);
const y = d3.scaleLinear().domain(yLimits).range([win.canvasBottom - margin.bottom, win.canvasTop + margin.top]);
const plot = fig.append('g');

plot.append('g').selectAll('circle').data(points).enter().append('circle')
    .attr('cx', d => x(d[0]))
    .attr('cy', d => y(d[1]))
    .attr('r', 3.6)
    .attr('fill', '#1f77b4');

const xAxis = d3.axisBottom(x).tickValues(xTicks).tickSize(6).tickPadding(6);
const yAxis = d3.axisLeft(y).tickValues(yTicks).tickSize(6).tickPadding(6);
const gx = plot.append('g').attr('transform', `translate(0, ${y.range()[0]})`).call(xAxis);
const gy = plot.append('g').attr('transform', `translate(${x.range()[0]}, 0)`).call(yAxis);
[gx, gy].forEach(g => {
    g.select('.domain').remove();
    g.selectAll('line').attr('stroke', '#000').attr('stroke-width', 1.3);
    g.selectAll('text').attr('fill', '#000').attr('font-family', '"DejaVu Sans"').attr('font-size', 17.3);
});
plot.append('rect')
    .attr('x', x.range()[0]).attr('y', y.range()[1])
    .attr('width', x.range()[1] - x.range()[0]).attr('height', y.range()[0] - y.range()[1])
    .attr('fill', 'none').attr('stroke', '#000').attr('stroke-width', 1.3);
label(plot, (x.range()[0] + x.range()[1]) / 2, 143, chartTitle, 20.8, '#000', '"DejaVu Sans"', 400, 'middle');
</script>
</body>
</html>
